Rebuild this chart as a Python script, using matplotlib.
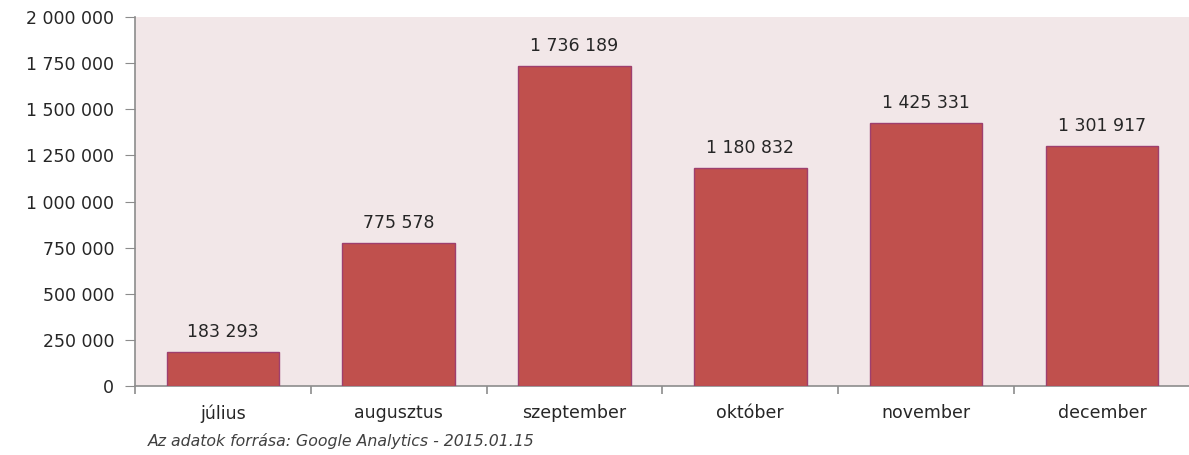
import matplotlib
matplotlib.use("Agg")
import matplotlib.pyplot as plt
from matplotlib.ticker import FuncFormatter, FixedLocator

plt.rcParams["font.family"] = ["DejaVu Sans"]

months = ["július", "augusztus", "szeptember", "október", "november", "december"]
values = [183293, 775578, 1736189, 1180832, 1425331, 1301917]
yticks = [0, 250000, 500000, 750000, 1000000, 1250000, 1500000, 1750000, 2000000]
source = "Az adatok forrása: Google Analytics - 2015.01.15"

def fmt(v):
    return f"{int(v):,}".replace(",", " ")

W, H = 1189, 455
fig = plt.figure(figsize=(W / 100, H / 100), dpi=100)
fig.patch.set_facecolor("white")
left, right_px, top, bottom = 135, 1189, 17, 386
ax = fig.add_axes([left / W, (H - bottom) / H, (right_px - left) / W, (bottom - top) / H])
ax.set_facecolor("#F2E7E8")

x = list(range(len(months)))
ax.bar(x, values, width=0.64, color="#C0504D", edgecolor="#9E3F6E", linewidth=1.0, zorder=3)

cat_w = 175.8
ax.set_xlim(-0.5, -0.5 + (right_px - left) / cat_w)
ax.set_ylim(0, 2000000)

txt = "#262626"
for xi, v in zip(x, values):
    ax.annotate(fmt(v), (xi, v), xytext=(0, 8), textcoords="offset points",
                ha="center", va="bottom", fontsize=12.5, color=txt)

ax.yaxis.set_major_locator(FixedLocator(yticks))
ax.yaxis.set_major_formatter(FuncFormatter(lambda v, p: fmt(v)))
ax.set_xticks(x)
ax.set_xticklabels(months)
ax.xaxis.set_minor_locator(FixedLocator([i + 0.5 for i in range(-1, len(months))]))

for s in ["top", "right"]:
    ax.spines[s].set_visible(False)
for s in ["left", "bottom"]:
    ax.spines[s].set_color("#8C8C8C")
    ax.spines[s].set_linewidth(1.2)

ax.tick_params(axis="y", which="major", length=7, color="#8C8C8C", labelsize=12.5,
               labelcolor=txt, pad=8)
ax.tick_params(axis="x", which="major", length=0, labelsize=12.5, labelcolor=txt, pad=13)
ax.tick_params(axis="x", which="minor", length=6, color="#8C8C8C", width=1.2)

fig.text(148 / W, 1 - 441 / H, source, fontsize=11.3, style="italic", color="#404040",
         ha="left", va="center")

fig.savefig("out.png", dpi=100)
